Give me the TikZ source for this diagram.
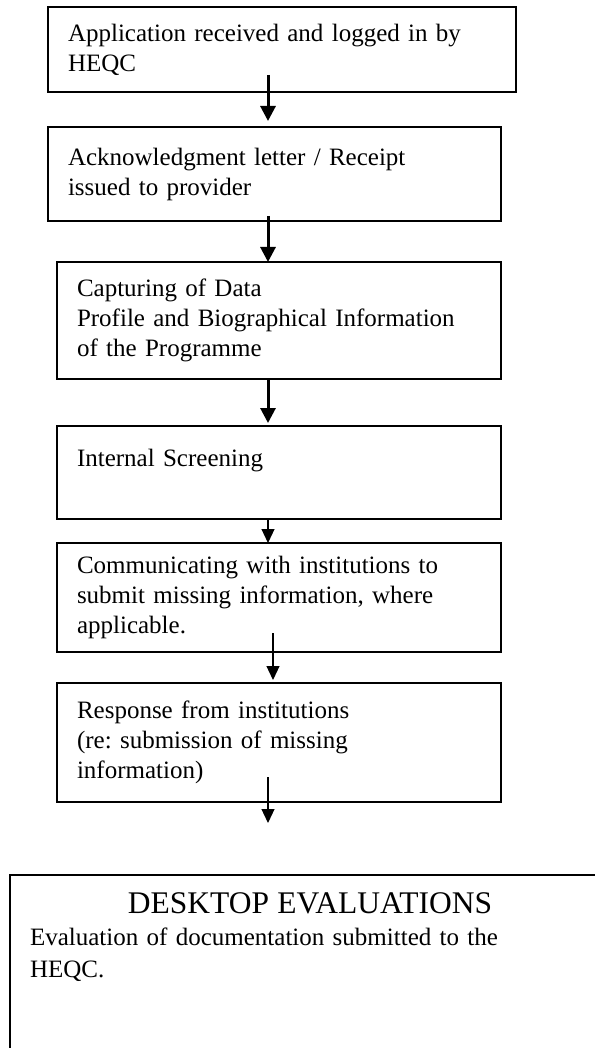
\documentclass[tikz,border=0pt]{standalone}
\usepackage{fontspec}
\setmainfont{Liberation Serif}
\usetikzlibrary{positioning, arrows.meta, calc}
\frenchspacing

\begin{document}
\begin{tikzpicture}[
  x=1pt, y=-1pt,
  stagebox/.style={
    rectangle, draw=black, line width=1.5pt, outer sep=0pt,
    inner xsep=20pt, inner ysep=4pt, align=left,
    font=\fontsize{25}{30}\selectfont
  },
  bigarr/.style={-{Triangle[length=15pt, width=15pt]}, line width=3pt},
  smallarr/.style={-{Triangle[length=14pt, width=13pt]}, line width=1.2pt},
]
\useasboundingbox (0,0) rectangle (594,1048);
\fill[white] (0,0) rectangle (594,1048);

% Stages
\node[stagebox, anchor=north west, text width=428pt, minimum height=85pt] (received) at (48,7) {Application received and logged in by\\HEQC};
\node[stagebox, below right=35pt and 0pt of received.south west, text width=413pt, minimum height=94pt] (receipt) {Acknowledgment letter / Receipt\\issued to provider};
\node[stagebox, below right=41pt and 9pt of receipt.south west, text width=404pt, minimum height=117pt] (capture) {Capturing of Data\\Profile and Biographical Information\\of the Programme};
\node[stagebox, below right=47pt and 0pt of capture.south west, text width=404pt, minimum height=93pt] (screening) {Internal Screening\\\mbox{}};
\node[stagebox, below right=24pt and 0pt of screening.south west, text width=404pt, minimum height=109pt] (communicate) {Communicating with institutions to\\submit missing information, where\\applicable.};
\node[stagebox, below right=31pt and 0pt of communicate.south west, text width=404pt, minimum height=119pt] (response) {Response from institutions\\(re: submission of missing\\information)};
\node[stagebox, below right=73pt and -47pt of response.south west, text width=560pt, text height=20pt, text depth=200pt, inner ysep=18pt, font=\fontsize{25}{32}\selectfont] (desktop) {{\centering\fontsize{31.5}{32}\selectfont DESKTOP EVALUATIONS\par}Evaluation of documentation submitted to the\\HEQC.};

% Arrows
\coordinate (spine) at (268,0);
\coordinate (tail) at ($(response.south -| spine)+(0,21)$);
\draw[bigarr] ($(received.south -| spine)+(0,-17)$) -- ($(receipt.north -| spine)+(0,-6)$);
\draw[bigarr] ($(receipt.south -| spine)+(0,-5)$) -- (capture.north -| spine);
\draw[bigarr] (capture.south -| spine) -- ($(screening.north -| spine)+(0,-3)$);
\draw[smallarr] (screening.south -| spine) -- (communicate.north -| spine);
\draw[smallarr] ($(communicate.south -| spine)+(5,-19)$) -- ($(response.north -| spine)+(5,-3)$);
\draw[smallarr] ($(response.south -| spine)+(0,-25)$) -- (tail);

\end{tikzpicture}
\end{document}
